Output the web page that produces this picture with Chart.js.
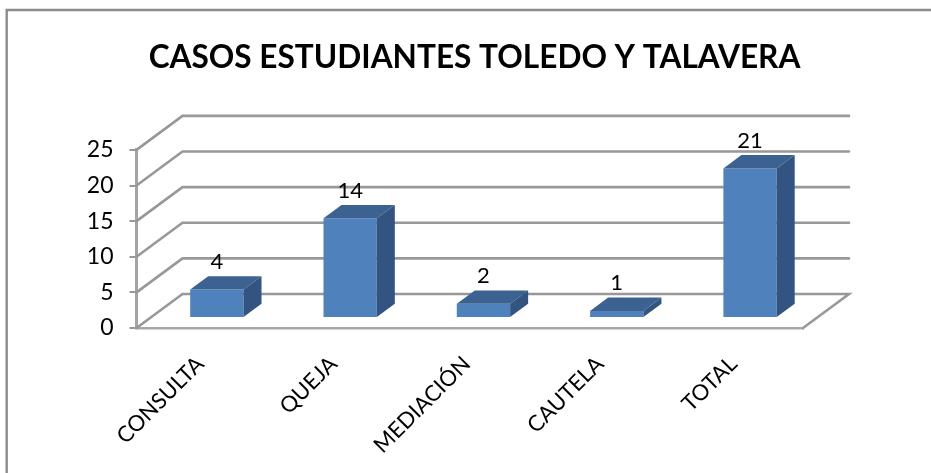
<!DOCTYPE html>
<html><head><meta charset="utf-8">
<style>html,body{margin:0;padding:0;background:#fff}canvas{display:block}</style>
<script src="https://cdn.jsdelivr.net/npm/chart.js@4"></script>
</head><body>
<canvas id="c" width="931" height="473"></canvas>
<script>
const categories = ["CONSULTA","QUEJA","MEDIACIÓN","CAUTELA","TOTAL"];
const values = [4,14,2,1,21];
const chartTitle = "CASOS ESTUDIANTES TOLEDO Y TALAVERA";
const FONT = "Lato, Carlito, sans-serif";
const GRID = "#989898";
const WALL = {dx:46, dy:-34};     // depth of the floor/side wall
const BARPLANE = {dx:13.7, dy:-10}; // bar front plane offset
const BARDEPTH = {dx:18, dy:-13.3};

const threeD = {
  id:"threeD",
  afterLayout(chart){
    if(chart.titleBlock){ chart.titleBlock.left = 18; chart.titleBlock.right = 931; }
  },
  beforeDraw(chart){
    const c = chart.ctx;
    c.save(); c.strokeStyle="#8c8c8c"; c.lineWidth=2.4;
    c.beginPath(); c.moveTo(6.7,473); c.lineTo(6.7,10); c.lineTo(931,10); c.stroke(); c.restore();
  },
  beforeDatasetsDraw(chart){
    const c = chart.ctx, {x,y} = chart.scales, a = chart.chartArea;
    c.save();
    c.lineWidth=2.6; c.strokeStyle=GRID; c.lineCap="round";
    y.ticks.forEach(t=>{
      const py=y.getPixelForValue(t.value);
      c.beginPath();
      c.moveTo(a.left,py);
      c.lineTo(a.left+WALL.dx,py+WALL.dy);
      if(t.value!==0) c.lineTo(a.right+WALL.dx,py+WALL.dy);
      c.stroke();
    });
    // floor: back edge and right edge
    const p0=y.getPixelForValue(0);
    c.beginPath();
    c.moveTo(a.left+WALL.dx,p0+WALL.dy);
    c.lineTo(a.right+WALL.dx,p0+WALL.dy);
    c.lineTo(a.right,p0);
    c.stroke();
    c.restore();
    c.save();
    c.translate(BARPLANE.dx,BARPLANE.dy);
  },
  afterDatasetsDraw(chart){
    const c = chart.ctx, meta = chart.getDatasetMeta(0);
    const d = BARDEPTH;
    meta.data.forEach(el=>{
      const l=el.x-el.width/2, r=el.x+el.width/2, t=el.y, b=el.base;
      c.fillStyle="#3c6291";
      c.beginPath();c.moveTo(l,t);c.lineTo(l+d.dx,t+d.dy);c.lineTo(r+d.dx,t+d.dy);c.lineTo(r,t);c.closePath();c.fill();
      c.fillStyle="#335480";
      c.beginPath();c.moveTo(r,t);c.lineTo(r+d.dx,t+d.dy);c.lineTo(r+d.dx,b+d.dy);c.lineTo(r,b);c.closePath();c.fill();
    });
    c.fillStyle="#000";
    c.font="22px "+FONT;
    c.textAlign="center"; c.textBaseline="middle";
    meta.data.forEach((el,i)=>{
      c.fillText(String(values[i]),el.x,el.y-27.5);
    });
    c.restore();
  }
};

new Chart(document.getElementById("c"),{
  type:"bar",
  data:{labels:categories,datasets:[{data:values,backgroundColor:"#4f81bd",borderWidth:0,
    barPercentage:0.4,categoryPercentage:1,clip:false}]},
  options:{
    responsive:false,animation:false,
    layout:{padding:{left:0,right:128,top:0,bottom:0}},
    plugins:{
      legend:{display:false},tooltip:{enabled:false},
      title:{display:true,text:chartTitle,color:"#000",
        font:{family:FONT,size:31.6,weight:"bold",lineHeight:1.2},
        padding:{top:39,bottom:73}}
    },
    scales:{
      x:{
        afterFit(s){s.height=145;},
        grid:{display:false},
        border:{color:"#a8a8a8",width:2.4},
        ticks:{color:"#000",font:{family:FONT,size:22},minRotation:45,maxRotation:45,padding:15,labelOffset:-3,autoSkip:false}
      },
      y:{
        min:0,max:25,
        afterFit(s){s.width=136.5;},
        grid:{drawOnChartArea:false,drawTicks:true,tickLength:7,color:GRID,lineWidth:2},
        border:{color:"#a4a4a4",width:3},
        ticks:{stepSize:5,color:"#000",font:{family:FONT,size:23},padding:16}
      }
    }
  },
  plugins:[threeD]
});
</script>
</body></html>
